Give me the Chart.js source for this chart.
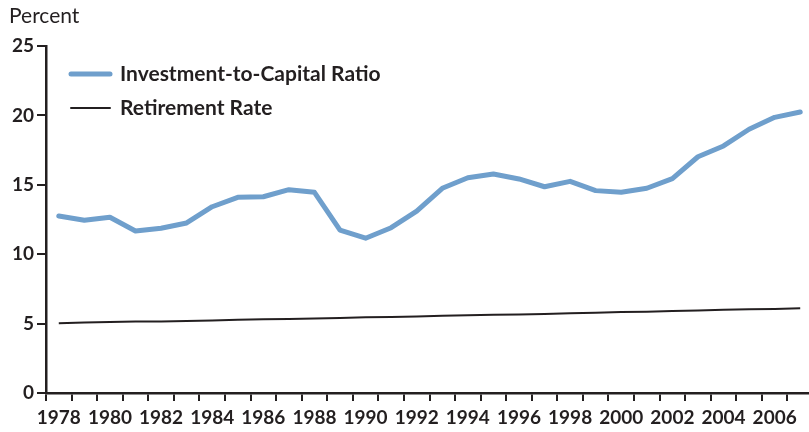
<!DOCTYPE html>
<html>
<head>
<meta charset="utf-8">
<script src="https://cdn.jsdelivr.net/npm/chart.js@4"></script>
<style>
  html, body { margin: 0; padding: 0; background: #fff; overflow: hidden; }
  #wrap { width: 813px; height: 432px; position: relative; }
</style>
</head>
<body>
<div id="wrap"><canvas id="ratio-chart"></canvas></div>
<script>
var years = [];
for (var y = 1978; y <= 2007; y++) years.push(String(y));

var investmentRatio = [12.75, 12.44, 12.66, 11.67, 11.87, 12.25, 13.42, 14.10, 14.14, 14.65,
                       14.46, 11.74, 11.15, 11.91, 13.10, 14.75, 15.51, 15.78, 15.42, 14.86,
                       15.25, 14.58, 14.46, 14.75, 15.44, 17.02, 17.80, 19.00, 19.86, 20.24];
var retirementRate = [5.03, 5.08, 5.12, 5.15, 5.16, 5.19, 5.23, 5.27, 5.31, 5.33,
                      5.36, 5.40, 5.45, 5.47, 5.52, 5.56, 5.60, 5.64, 5.66, 5.70,
                      5.74, 5.79, 5.84, 5.86, 5.90, 5.95, 5.99, 6.03, 6.05, 6.10];
var yTicks = [0, 5, 10, 15, 20, 25];

var ink = "#231f20";
var blue = "#6f9fcc";
var fontFam = "Lato, 'Open Sans', sans-serif";

// unit label and in-plot legend
var extras = {
    id: "extras",
    afterDraw: function(chart) {
        var ctx = chart.ctx;
        ctx.save();
        ctx.fillStyle = ink;
        ctx.textBaseline = "middle";
        ctx.textAlign = "left";
        ctx.font = "21px " + fontFam;
        ctx.fillText("Percent", 9, 16);

        var items = [
            { text: "Investment-to-Capital Ratio", color: blue, width: 5, y: 74 },
            { text: "Retirement Rate", color: ink, width: 2, y: 108 }
        ];
        items.forEach(function(it) {
            ctx.beginPath();
            ctx.strokeStyle = it.color;
            ctx.lineWidth = it.width;
            ctx.lineCap = "round";
            ctx.moveTo(71, it.y);
            ctx.lineTo(110, it.y);
            ctx.stroke();
            ctx.font = "bold 21px " + fontFam;
            ctx.fillText(it.text, 120, it.y);
        });
        ctx.restore();
    }
};

new Chart(document.getElementById("ratio-chart"), {
    type: 'line',
    data: {
        labels: years,
        datasets: [
            {
                label: "Investment-to-Capital Ratio",
                data: investmentRatio,
                borderColor: blue,
                borderWidth: 5,
                pointRadius: 0,
                tension: 0,
                borderCapStyle: 'round',
                borderJoinStyle: 'round'
            },
            {
                label: "Retirement Rate",
                data: retirementRate,
                borderColor: ink,
                borderWidth: 2,
                pointRadius: 0,
                tension: 0
            }
        ]
    },
    options: {
        responsive: true,
        maintainAspectRatio: false,
        animation: false,
        layout: { padding: { top: 46, left: 0, right: 0, bottom: 0 } },
        plugins: {
            legend: { display: false },
            tooltip: { enabled: false }
        },
        scales: {
            x: {
                offset: true,
                grid: {
                    offset: true,
                    drawOnChartArea: false,
                    drawTicks: true,
                    tickLength: 8,
                    color: ink,
                    lineWidth: 2
                },
                border: { color: ink, width: 2.5 },
                ticks: {
                    autoSkip: false,
                    maxRotation: 0,
                    padding: 5,
                    color: ink,
                    font: { family: fontFam, size: 19, weight: 'bold' },
                    callback: function(val, i) {
                        var yr = Number(years[i]);
                        return yr % 2 === 0 ? years[i] : '';
                    }
                },
                afterFit: function(scale) { scale.height = 39; }
            },
            y: {
                min: 0,
                max: 25,
                afterBuildTicks: function(scale) {
                    scale.ticks = yTicks.map(function(v) { return { value: v }; });
                },
                grid: {
                    drawOnChartArea: false,
                    drawTicks: true,
                    tickLength: 9,
                    color: ink,
                    lineWidth: 2
                },
                border: { color: ink, width: 2.5 },
                ticks: {
                    padding: 3,
                    color: ink,
                    font: { family: fontFam, size: 19, weight: 'bold' }
                },
                afterFit: function(scale) { scale.width = 46; }
            }
        }
    },
    plugins: [extras]
});
</script>
</body>
</html>
